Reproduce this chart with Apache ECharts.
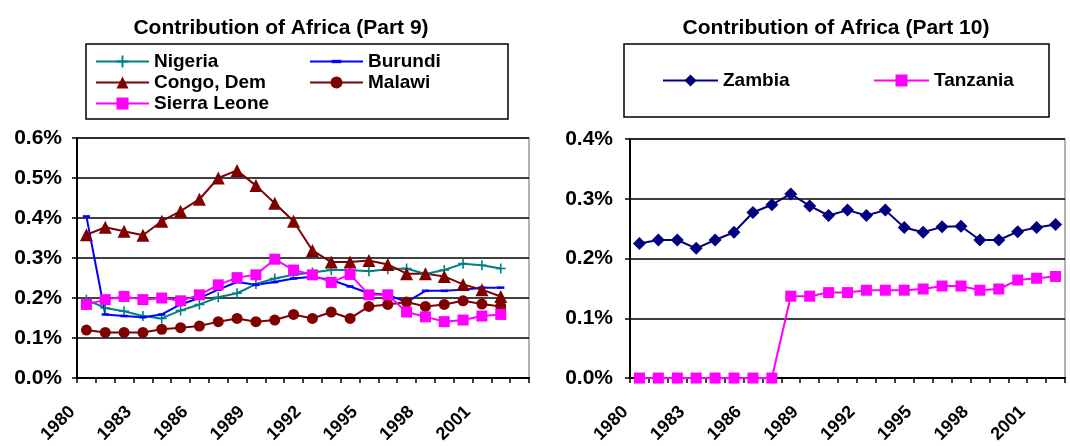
<!DOCTYPE html>
<html>
<head>
    <meta charset="UTF-8">
    <title>Contribution of Africa (Part 9 / Part 10)</title>
    <script src="https://cdn.jsdelivr.net/npm/echarts@6/dist/echarts.min.js"></script>
    <style>
        body { margin: 0; background: #fff; }
    </style>
</head>
<body>
    <div id="main" style="width: 1070px;height:446px;"></div>
    <script type="text/javascript">
        // years on the x axes (left chart has one empty slot at the end)
        var yearsLeft = ['1980','1981','1982','1983','1984','1985','1986','1987','1988','1989','1990','1991',
                         '1992','1993','1994','1995','1996','1997','1998','1999','2000','2001','2002','2003'];
        var yearsRight = ['1980','1981','1982','1983','1984','1985','1986','1987','1988','1989','1990','1991',
                          '1992','1993','1994','1995','1996','1997','1998','1999','2000','2001','2002'];

        // values in percent
        var nigeria = [0.196,0.175,0.167,0.155,0.149,0.169,0.184,0.202,0.212,0.235,0.249,0.258,
                       0.264,0.270,0.270,0.267,0.272,0.274,0.260,0.270,0.286,0.282,0.274];
        var burundi = [0.404,0.159,0.155,0.152,0.159,0.184,0.200,0.221,0.240,0.233,0.240,0.249,
                       0.253,0.245,0.229,0.212,0.208,0.190,0.218,0.218,0.221,0.226,0.226];
        var congo = [0.358,0.377,0.367,0.357,0.392,0.417,0.447,0.500,0.519,0.481,0.437,0.392,
                     0.319,0.290,0.290,0.294,0.284,0.261,0.261,0.254,0.234,0.221,0.204];
        var malawi = [0.120,0.114,0.114,0.114,0.122,0.126,0.130,0.141,0.149,0.141,0.145,0.159,
                      0.149,0.165,0.149,0.179,0.184,0.190,0.179,0.184,0.193,0.185,0.179];
        var sierraLeone = [0.184,0.196,0.204,0.196,0.200,0.193,0.208,0.233,0.251,0.258,0.297,0.270,
                           0.258,0.239,0.259,0.208,0.208,0.165,0.153,0.141,0.145,0.155,0.159];

        var zambia = [0.225,0.231,0.231,0.217,0.231,0.244,0.277,0.290,0.308,0.288,0.272,0.281,
                      0.272,0.281,0.252,0.244,0.253,0.254,0.231,0.231,0.245,0.252,0.257];
        var tanzania = [0,0,0,0,0,0,0,0,0.137,0.137,0.143,0.143,
                        0.147,0.147,0.147,0.149,0.154,0.154,0.147,0.149,0.164,0.167,0.170];

        var FONT = 'Liberation Sans, Arial, sans-serif';
        var plusPath = 'path://M4.2,0H5.8V4.2H10V5.8H5.8V10H4.2V5.8H0V4.2H4.2Z';
        // flat dash marker, padded to a square box so the legend keeps it flat too
        var dashPath = 'path://M0,0M1,3.6H9V6.4H1ZM10,10';

        var myChart = echarts.init(document.getElementById('main'));

        function xAxisFor(idx, cats) {
            return {
                type: 'category',
                gridIndex: idx,
                data: cats,
                boundaryGap: true,
                axisLine: { lineStyle: { color: '#000', width: 2 } },
                axisTick: { show: true, interval: 0, length: 5, lineStyle: { color: '#000', width: 1.5 } },
                axisLabel: {
                    interval: 2, rotate: 45, margin: 17,
                    padding: [0, 20, 0, 0],
                    color: '#000', fontWeight: 'bold', fontSize: 18, fontFamily: FONT
                },
                splitLine: { show: false }
            };
        }

        function yAxisFor(idx, max, margin) {
            return {
                type: 'value',
                gridIndex: idx,
                min: 0, max: max, interval: 0.1,
                axisLine: { show: true, lineStyle: { color: '#000', width: 2 } },
                axisTick: { show: true, length: 5, lineStyle: { color: '#000', width: 1.5 } },
                axisLabel: {
                    margin: margin,
                    formatter: function (v) { return v.toFixed(1) + '%'; },
                    color: '#000', fontWeight: 'bold', fontSize: 21, fontFamily: FONT
                },
                splitLine: { show: true, lineStyle: { color: '#000', width: 1.5 } }
            };
        }

        function lineSeries(name, data, color, symbol, size, xi) {
            return {
                name: name,
                type: 'line',
                xAxisIndex: xi, yAxisIndex: xi,
                data: data,
                symbol: symbol,
                symbolSize: size,
                showAllSymbol: true,
                animation: false,
                lineStyle: { color: color, width: 2 },
                itemStyle: { color: color, borderColor: color, borderWidth: 0 }
            };
        }

        var legendText = { color: '#000', fontWeight: 'bold', fontSize: 19, fontFamily: FONT, lineHeight: 18 };

        var option = {
            backgroundColor: '#fff',
            animation: false,
            title: [
                {
                    text: 'Contribution of Africa (Part 9)',
                    left: 276, top: 13, textAlign: 'center',
                    textStyle: { fontSize: 21, fontWeight: 'bold', color: '#000', fontFamily: FONT }
                },
                {
                    text: 'Contribution of Africa (Part 10)',
                    left: 831, top: 13, textAlign: 'center',
                    textStyle: { fontSize: 21, fontWeight: 'bold', color: '#000', fontFamily: FONT }
                }
            ],
            legend: [
                {
                    left: 86, top: 44,
                    orient: 'horizontal',
                    width: 430,
                    padding: [8, 12, 6, 9],
                    itemGap: 2,
                    itemWidth: 53, itemHeight: 15,
                    borderColor: '#000', borderWidth: 1.5, borderRadius: 0,
                    textStyle: legendText,
                    data: [
                        { name: 'Nigeria', textStyle: { width: 153 } },
                        { name: 'Burundi', textStyle: { width: 128 } },
                        { name: 'Congo, Dem', textStyle: { width: 153 } },
                        { name: 'Malawi', textStyle: { width: 128 } },
                        { name: 'Sierra Leone', textStyle: { width: 153 } }
                    ]
                },
                {
                    left: 624, top: 44,
                    orient: 'horizontal',
                    padding: [27, 15, 27, 38],
                    itemGap: 2,
                    itemWidth: 55, itemHeight: 15,
                    borderColor: '#000', borderWidth: 1.5, borderRadius: 0,
                    textStyle: legendText,
                    data: [
                        { name: 'Zambia', textStyle: { width: 148 } },
                        { name: 'Tanzania', textStyle: { width: 100 } }
                    ]
                }
            ],
            grid: [
                { left: 77, top: 138, width: 452, height: 241, show: true, borderColor: '#999', borderWidth: 1.5 },
                { left: 630, top: 139, width: 435, height: 240, show: true, borderColor: '#999', borderWidth: 1.5 }
            ],
            xAxis: [xAxisFor(0, yearsLeft), xAxisFor(1, yearsRight)],
            yAxis: [yAxisFor(0, 0.6, 15), yAxisFor(1, 0.4, 17)],
            series: [
                lineSeries('Nigeria', nigeria, '#008080', plusPath, 10, 0),
                lineSeries('Burundi', burundi, '#0000FF', dashPath, 9, 0),
                lineSeries('Congo, Dem', congo, '#800000', 'triangle', 13, 0),
                lineSeries('Malawi', malawi, '#800000', 'circle', 11, 0),
                lineSeries('Sierra Leone', sierraLeone, '#FF00FF', 'rect', 11, 0),
                lineSeries('Zambia', zambia, '#000080', 'diamond', 13, 1),
                lineSeries('Tanzania', tanzania, '#FF00FF', 'rect', 11, 1)
            ]
        };

        myChart.setOption(option);
    </script>
</body>
</html>
